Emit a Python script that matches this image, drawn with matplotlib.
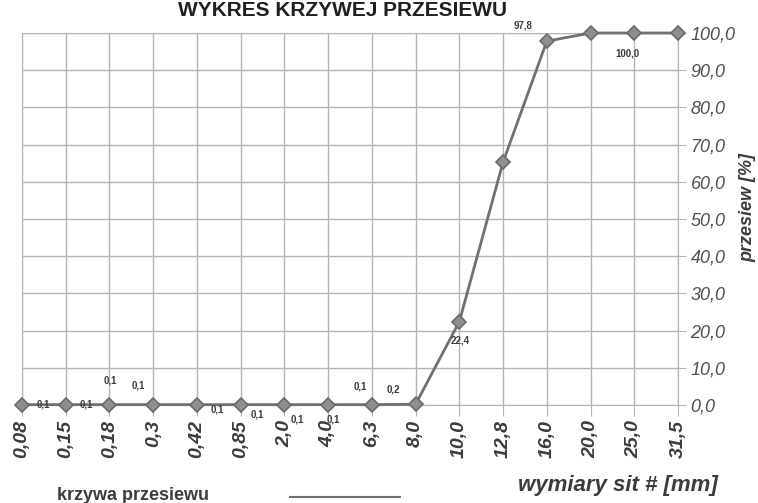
import matplotlib
matplotlib.use("Agg")
import matplotlib.pyplot as plt
from matplotlib.lines import Line2D

plt.rcParams['font.family'] = ['Liberation Sans', 'DejaVu Sans']

# sieve sizes [mm] and passing [%]
sieves = ["0,08", "0,15", "0,18", "0,3", "0,42", "0,85", "2,0", "4,0",
          "6,3", "8,0", "10,0", "12,8", "16,0", "20,0", "25,0", "31,5"]
passing = [0.1, 0.1, 0.1, 0.1, 0.1, 0.1, 0.1, 0.1,
           0.1, 0.2, 22.4, 65.3, 97.8, 100.0, 100.0, 100.0]
# which points carry a value label (as in the original sheet)
labelled = [0, 1, 2, 3, 4, 5, 6, 7, 8, 9, 10, 12, 14]
label_offsets = {0: (21, 0), 1: (21, 0), 2: (1, 24), 3: (-15, 19),
                 4: (20, -5), 5: (17, -10), 6: (13, -15), 7: (5, -15),
                 8: (-12, 18), 9: (-22, 15), 10: (1, -19), 12: (-24, 16),
                 14: (-7, -20)}
yticks = [0, 10, 20, 30, 40, 50, 60, 70, 80, 90, 100]

line_col = "#707070"
grid_col = "#b4b4b4"
text_col = "#3c3c3c"

fig = plt.figure(figsize=(7.58, 5.03), dpi=100)
ax = fig.add_axes([22 / 758, 1 - 405 / 503, 656 / 758, 372 / 503])

x = list(range(len(sieves)))
ax.plot(x, passing, color=line_col, lw=2, marker="D", ms=7,
        mfc="#8e8e8e", mec="#6a6a6a", mew=1.2, zorder=3, clip_on=False)

for i in labelled:
    txt = ("%.1f" % passing[i]).replace(".", ",")
    ax.annotate(txt, (i, passing[i]), xytext=label_offsets[i],
                textcoords="offset pixels", ha="center", va="center",
                fontsize=7, color=text_col, fontweight="bold", zorder=4)

ax.set_xlim(0, len(sieves) - 1)
ax.set_ylim(0, 100)
ax.set_xticks(x)
ax.set_xticklabels(sieves, rotation=90, fontsize=14, fontstyle="italic",
                   fontweight="bold", color=text_col, va="top", ha="center")
ax.yaxis.tick_right()
ax.set_yticks(yticks)
ax.set_yticklabels([("%.1f" % v).replace(".", ",") for v in yticks],
                   fontsize=13, fontstyle="italic", color="#505050")
ax.tick_params(axis="x", length=8, color=grid_col, pad=3)
ax.tick_params(axis="y", length=6, color=grid_col, pad=3)
ax.grid(True, color=grid_col, lw=1)
ax.set_axisbelow(True)
for s in ax.spines.values():
    s.set_color(grid_col)

fig.text(748 / 758, 1 - 208 / 503, "przesiew [%]", rotation=90,
         ha="center", va="center", fontsize=13, fontstyle="italic",
         fontweight="bold", color=text_col)
fig.text(618 / 758, 1 - 485 / 503, "wymiary sit # [mm]", ha="center",
         va="center", fontsize=16, fontstyle="italic", fontweight="bold",
         color=text_col)
fig.text(342 / 758, 1 - 1 / 503, "WYKRES KRZYWEJ PRZESIEWU", ha="center",
         va="top", fontsize=15, fontweight="bold", color="#202020")

# legend row at the bottom
fig.text(57 / 758, 1 - 495 / 503, "krzywa przesiewu", ha="left",
         va="center", fontsize=13, fontweight="bold", color=text_col)
fig.add_artist(Line2D([290 / 758, 400 / 758], [1 - 497 / 503, 1 - 497 / 503],
                      color=line_col, lw=1.5))

fig.savefig("out.png", dpi=100)
